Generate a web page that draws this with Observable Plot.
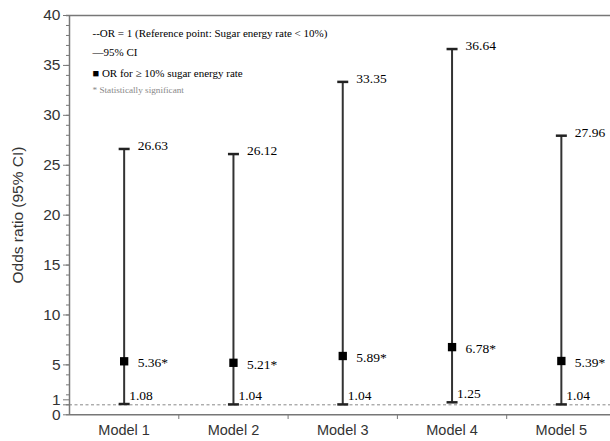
<!DOCTYPE html>
<html>
<head>
<meta charset="utf-8">
<script src="https://cdn.jsdelivr.net/npm/d3@7"></script>
<script src="https://cdn.jsdelivr.net/npm/@observablehq/plot@0.6"></script>
<style>
  html, body { margin: 0; padding: 0; background: #fff; }
  svg { overflow: visible; }
</style>
</head>
<body>
<div id="chart"></div>
<script>
const models = ["Model 1", "Model 2", "Model 3", "Model 4", "Model 5"];
const orValues = [5.36, 5.21, 5.89, 6.78, 5.39];
const ciLower = [1.08, 1.04, 1.04, 1.25, 1.04];
const ciUpper = [26.63, 26.12, 33.35, 36.64, 27.96];
const significant = [true, true, true, true, true];
const yTickLabels = [0, 5, 10, 15, 20, 25, 30, 35, 40];
const yRefTick = [1];
const referenceOR = 1;
const legendLines = [
  "--OR = 1 (Reference point: Sugar energy rate < 10%)",
  "\u201495% CI",
  "\u25A0 OR for \u2265 10% sugar energy rate"
];
const legendNote = "* Statistically significant";

const rows = models.map((m, i) => ({
  model: m, pos: i + 0.5, or: orValues[i], lo: ciLower[i], hi: ciUpper[i], sig: significant[i]
}));

const hline = {
  draw(context) { context.moveTo(-5.5, 0); context.lineTo(5.5, 0); }
};

const serif = "'Liberation Serif', 'Times New Roman', serif";
const sans = "'Liberation Sans', Arial, sans-serif";
const legendDy = [18, 37, 58];

const chart = Plot.plot({
  width: 610,
  height: 441,
  marginTop: 15,
  marginBottom: 27,
  marginLeft: 69,
  marginRight: 0,
  style: { fontFamily: sans, background: "#fff", overflow: "visible" },
  x: { domain: [0, models.length], range: [69, 615.5] },
  y: { domain: [0, 40], range: [414.3, 15] },
  marks: [
    Plot.ruleY([40], { stroke: "#777", strokeWidth: 1.5, insetLeft: -3 }),
    Plot.ruleY([referenceOR], { stroke: "#888", strokeWidth: 1, strokeDasharray: "3,2.5" }),
    Plot.axisY({ ticks: d3.range(0, 41), tickSize: 3, tickFormat: () => "", stroke: "#777", label: null }),
    Plot.axisY({
      ticks: yTickLabels, tickSize: 6, tickPadding: 3, fontSize: 15.5, fill: "#333", stroke: "#777",
      label: "Odds ratio (95% CI)", labelAnchor: "center", labelArrow: "none", labelOffset: 58
    }),
    Plot.axisY({ ticks: yRefTick, tickSize: 6, tickPadding: 3, fontSize: 15.5, fill: "#333", stroke: "#777",
      textStroke: "none", dy: -5, label: null }),
    Plot.axisY({ ticks: yRefTick, tickSize: 6, tickFormat: () => "", stroke: "#777", label: null }),
    Plot.ruleX([0], { stroke: "#777", strokeWidth: 1.5 }),
    Plot.ruleY([0], { stroke: "#777", strokeWidth: 1.5 }),
    Plot.axisX({ ticks: rows.map(d => d.pos), tickSize: 0, tickPadding: 10, fontSize: 14.5, fill: "#333",
      tickFormat: v => models[Math.floor(v)], label: null }),
    Plot.axisX({ ticks: d3.range(1, models.length), tickSize: 5, tickFormat: () => "", stroke: "#777", label: null }),
    Plot.ruleX(rows, { x: "pos", y1: "lo", y2: "hi", stroke: "#333", strokeWidth: 2 }),
    Plot.dot(rows, { x: "pos", y: "hi", symbol: hline, stroke: "#222", strokeWidth: 2.5, r: 5 }),
    Plot.dot(rows, { x: "pos", y: "lo", symbol: hline, stroke: "#222", strokeWidth: 2.5, r: 5 }),
    Plot.dot(rows, { x: "pos", y: "or", symbol: "square", fill: "#000", stroke: null, r: 4.7 }),
    Plot.text(rows, { x: "pos", y: "hi", text: d => d.hi.toFixed(2), textAnchor: "start", dx: 13.5, dy: -3,
      fontFamily: serif, fontSize: 13.5, fill: "#000" }),
    Plot.text(rows, { x: "pos", y: "or", text: d => d.or.toFixed(2) + (d.sig ? "*" : ""), textAnchor: "start", dx: 13.5, dy: 1.5,
      fontFamily: serif, fontSize: 13.5, fill: "#000" }),
    Plot.text(rows, { x: "pos", y: "lo", text: d => d.lo.toFixed(2), textAnchor: "start", dx: 5, dy: -8.5,
      fontFamily: serif, fontSize: 13.5, fill: "#000" }),
    ...legendLines.map((t, i) => Plot.text([t], { frameAnchor: "top-left", text: d => d, textAnchor: "start",
      lineAnchor: "middle", dx: 23, dy: legendDy[i], fontFamily: serif, fontSize: 11, fill: "#000" })),
    Plot.text([legendNote], { frameAnchor: "top-left", text: d => d, textAnchor: "start",
      lineAnchor: "middle", dx: 23, dy: 75, fontFamily: serif, fontSize: 9.2, fill: "#888" })
  ]
});
document.getElementById("chart").appendChild(chart);
</script>
</body>
</html>
